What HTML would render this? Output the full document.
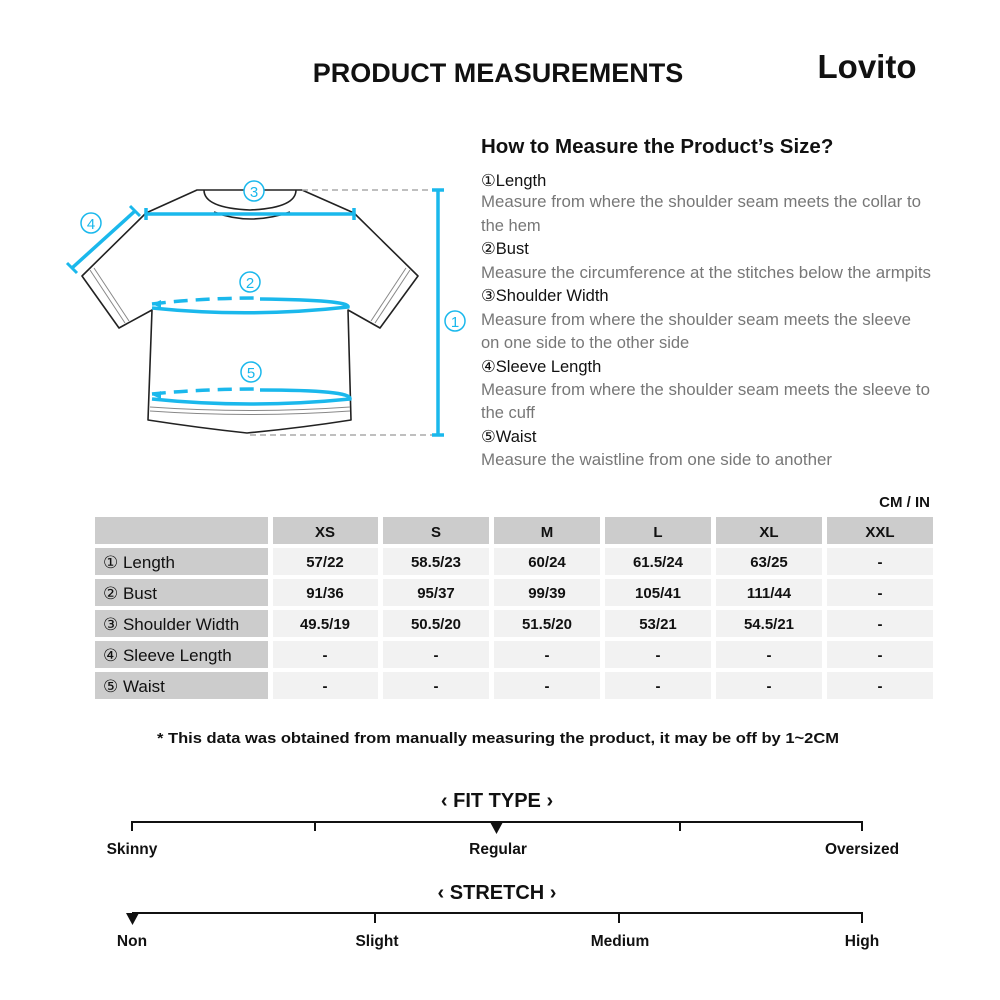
<!DOCTYPE html>
<html><head><meta charset="utf-8"><style>
html,body{margin:0;padding:0;background:#fff;}
svg{display:block;font-family:"Liberation Sans",sans-serif;}
</style></head><body>
<svg width="1000" height="1000" viewBox="0 0 1000 1000" xmlns="http://www.w3.org/2000/svg">
<rect width="1000" height="1000" fill="#fff"/>
<text x="498" y="82" text-anchor="middle" font-size="27" font-weight="bold" fill="#111">PRODUCT MEASUREMENTS</text>
<text x="867" y="78" text-anchor="middle" font-size="33" font-weight="bold" fill="#111">Lovito</text>

<!-- shirt -->
<g fill="none" stroke="#222" stroke-width="1.6" stroke-linejoin="round">
<path d="M197,190 L146,213 L82,276 L119,328 L152,310 L148,420 Q200,428 247,433 Q300,428 351,420 L348,310 L380,328 L418,276 L354,213 L302,190 Z" fill="#fff"/>
<path d="M204,190 Q204,208 250,210 Q296,208 296,190"/>
<path d="M214,212 Q250,226 290,212"/>
<path d="M150,407 Q250,414 350,407" stroke="#888" stroke-width="1"/>
<path d="M150,411 Q250,418 350,411" stroke="#888" stroke-width="1"/>
<path d="M90,270 L125,323 M94,268 L129,321" stroke="#888" stroke-width="1"/>
<path d="M410,270 L375,323 M406,268 L371,321" stroke="#888" stroke-width="1"/>
</g>
<g stroke="#aaa" stroke-width="1.5" stroke-dasharray="6,4">
<line x1="302" y1="190" x2="432" y2="190"/>
<line x1="250" y1="435" x2="432" y2="435"/>
</g>
<g stroke="#1ab8ec" stroke-width="3.5" fill="none">
<line x1="146" y1="214" x2="354" y2="214"/>
<line x1="146" y1="208" x2="146" y2="220"/>
<line x1="354" y1="208" x2="354" y2="220"/>
<line x1="438" y1="190" x2="438" y2="435"/>
<line x1="432" y1="190" x2="444" y2="190"/>
<line x1="432" y1="435" x2="444" y2="435"/>
<line x1="72" y1="268" x2="135" y2="211"/>
<line x1="67" y1="263" x2="77" y2="273" stroke-width="3"/>
<line x1="130" y1="206" x2="140" y2="216" stroke-width="3"/>
<path d="M152,308 Q250,318 348,307 Q350,300 260,299"/>
<path d="M152,304 Q200,298 260,298" stroke-dasharray="14,8"/>
<path d="M152,399 Q250,409 350,399 Q352,390 260,390"/>
<path d="M152,394 Q200,389 260,389" stroke-dasharray="14,8"/>
</g>
<path d="M152,304 l9,-4 l0,8 z M152,395 l9,-4 l0,8 z" fill="#1ab8ec"/>
<g fill="#fff" stroke="#1ab8ec" stroke-width="1.5">
<circle cx="254" cy="191" r="10"/><circle cx="250" cy="282" r="10"/><circle cx="251" cy="372" r="10"/><circle cx="91" cy="223" r="10"/><circle cx="455" cy="321" r="10" fill="none"/>
</g>
<g fill="#1ab8ec" font-size="15" text-anchor="middle">
<text x="254" y="197">3</text><text x="250" y="288">2</text><text x="251" y="378">5</text><text x="91" y="229">4</text><text x="455" y="327">1</text>
</g>

<!-- instructions -->
<text x="481" y="153" font-size="20.5" font-weight="bold" fill="#111">How to Measure the Product’s Size?</text>
<g font-size="16.5" fill="#111">
<text x="481" y="186">①Length</text>
<text x="481" y="254">②Bust</text>
<text x="481" y="301">③Shoulder Width</text>
<text x="481" y="372">④Sleeve Length</text>
<text x="481" y="442">⑤Waist</text>
</g>
<g font-size="16.5" fill="#777">
<text x="481" y="207" textLength="440" lengthAdjust="spacingAndGlyphs">Measure from where the shoulder seam meets the collar to</text>
<text x="481" y="231">the hem</text>
<text x="481" y="278" textLength="450" lengthAdjust="spacingAndGlyphs">Measure the circumference at the stitches below the armpits</text>
<text x="481" y="325" textLength="430" lengthAdjust="spacingAndGlyphs">Measure from where the shoulder seam meets the sleeve</text>
<text x="481" y="348">on one side to the other side</text>
<text x="481" y="395" textLength="449" lengthAdjust="spacingAndGlyphs">Measure from where the shoulder seam meets the sleeve to</text>
<text x="481" y="418">the cuff</text>
<text x="481" y="465" textLength="351" lengthAdjust="spacingAndGlyphs">Measure the waistline from one side to another</text>
</g>

<text x="930" y="507" text-anchor="end" font-size="15" font-weight="bold" fill="#111">CM / IN</text>

<!-- table -->
<g fill="#cccccc">
<rect x="95" y="517" width="173" height="27"/>
<rect x="273" y="517" width="105" height="27"/><rect x="383" y="517" width="106" height="27"/><rect x="494" y="517" width="106" height="27"/><rect x="605" y="517" width="106" height="27"/><rect x="716" y="517" width="106" height="27"/><rect x="827" y="517" width="106" height="27"/>
<rect x="95" y="548" width="173" height="27"/><rect x="95" y="579" width="173" height="27"/><rect x="95" y="610" width="173" height="27"/><rect x="95" y="641" width="173" height="27"/><rect x="95" y="672" width="173" height="27"/>
</g>
<g fill="#f2f2f2">
<rect x="273" y="548" width="660" height="27"/><rect x="273" y="579" width="660" height="27"/><rect x="273" y="610" width="660" height="27"/><rect x="273" y="641" width="660" height="27"/><rect x="273" y="672" width="660" height="27"/>
</g>
<g fill="#fff">
<rect x="378" y="548" width="5" height="151"/><rect x="489" y="548" width="5" height="151"/><rect x="600" y="548" width="5" height="151"/><rect x="711" y="548" width="5" height="151"/><rect x="822" y="548" width="5" height="151"/>
</g>
<g font-size="15" font-weight="bold" fill="#111" text-anchor="middle">
<text x="325" y="537">XS</text><text x="436" y="537">S</text><text x="547" y="537">M</text><text x="658" y="537">L</text><text x="769" y="537">XL</text><text x="880" y="537">XXL</text>
<text x="325" y="567">57/22</text><text x="436" y="567">58.5/23</text><text x="547" y="567">60/24</text><text x="658" y="567">61.5/24</text><text x="769" y="567">63/25</text><text x="880" y="567">-</text>
<text x="325" y="598">91/36</text><text x="436" y="598">95/37</text><text x="547" y="598">99/39</text><text x="658" y="598">105/41</text><text x="769" y="598">111/44</text><text x="880" y="598">-</text>
<text x="325" y="629">49.5/19</text><text x="436" y="629">50.5/20</text><text x="547" y="629">51.5/20</text><text x="658" y="629">53/21</text><text x="769" y="629">54.5/21</text><text x="880" y="629">-</text>
<text x="325" y="660">-</text><text x="436" y="660">-</text><text x="547" y="660">-</text><text x="658" y="660">-</text><text x="769" y="660">-</text><text x="880" y="660">-</text>
<text x="325" y="691">-</text><text x="436" y="691">-</text><text x="547" y="691">-</text><text x="658" y="691">-</text><text x="769" y="691">-</text><text x="880" y="691">-</text>
</g>
<g font-size="17" fill="#111">
<text x="103" y="568">① Length</text>
<text x="103" y="599">② Bust</text>
<text x="103" y="630">③ Shoulder Width</text>
<text x="103" y="661">④ Sleeve Length</text>
<text x="103" y="692">⑤ Waist</text>
</g>

<text x="498" y="743" text-anchor="middle" font-size="15" font-weight="bold" fill="#111" textLength="682" lengthAdjust="spacingAndGlyphs">* This data was obtained from manually measuring the product, it may be off by 1~2CM</text>

<!-- fit type -->
<text x="497" y="807" text-anchor="middle" font-size="20" font-weight="bold" fill="#111">‹ FIT TYPE ›</text>
<g stroke="#111" stroke-width="2">
<line x1="132" y1="822" x2="862" y2="822"/>
<line x1="132" y1="821" x2="132" y2="831"/><line x1="315" y1="821" x2="315" y2="831"/><line x1="680" y1="821" x2="680" y2="831"/><line x1="862" y1="821" x2="862" y2="831"/>
<line x1="132" y1="913" x2="862" y2="913"/>
<line x1="375" y1="912" x2="375" y2="923"/><line x1="619" y1="912" x2="619" y2="923"/><line x1="862" y1="912" x2="862" y2="923"/>
</g>
<path d="M490,822 L503,822 L496.5,834 Z" fill="#111"/>
<path d="M126,913 L139,913 L132.5,925 Z" fill="#111"/>
<g font-size="15.5" font-weight="bold" fill="#111" text-anchor="middle">
<text x="132" y="854">Skinny</text><text x="498" y="854">Regular</text><text x="862" y="854">Oversized</text>
<text x="132" y="946">Non</text><text x="377" y="946">Slight</text><text x="620" y="946">Medium</text><text x="862" y="946">High</text>
</g>
<text x="497" y="899" text-anchor="middle" font-size="20" font-weight="bold" fill="#111">‹ STRETCH ›</text>
</svg>
</body></html>
